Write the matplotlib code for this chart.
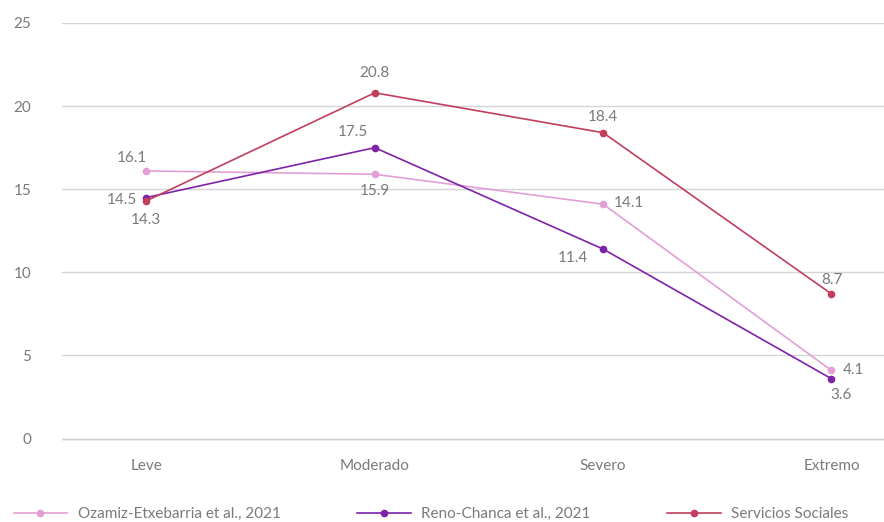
import matplotlib.pyplot as plt
import numpy as np

plt.rcParams['font.family'] = ['Lato', 'DejaVu Sans']

categories = ['Leve', 'Moderado', 'Severo', 'Extremo']
ozamiz = [16.1, 15.9, 14.1, 4.1]
reno = [14.5, 17.5, 11.4, 3.6]
servicios = [14.3, 20.8, 18.4, 8.7]
series_names = ['Ozamiz-Etxebarria et al., 2021', 'Reno-Chanca et al., 2021', 'Servicios Sociales']
yticks = [0, 5, 10, 15, 20, 25]

colors = ['#e29fd6', '#7e22a8', '#c13e5c']
# label offsets in pixels (dx, dy) for each point
offsets = [
    [(-14, 13), (0, -17), (26, 1), (22, 0)],
    [(-24, -2), (-22, 16), (-30, -9), (10, -16)],
    [(0, -19), (0, 20), (0, 16), (0, 14)],
]
text_color = '#7a7a7a'

fig = plt.figure(figsize=(8.84, 5.22), dpi=100)
ax = fig.add_axes([0.070, 0.155, 0.930, 0.801])

x = np.arange(len(categories))
for vals, name, col, offs in zip([ozamiz, reno, servicios], series_names, colors, offsets):
    ax.plot(x, vals, color=col, lw=1.2, marker='o', ms=4.5, label=name, zorder=3)
    for xi, v, (dx, dy) in zip(x, vals, offs):
        ax.annotate(f'{v:.1f}', (xi, v), xytext=(dx, dy), textcoords='offset pixels',
                    ha='center', va='center', fontsize=11, color=text_color)

ax.set_xlim(-0.37, 3.23)
ax.set_ylim(-0.15, 25)
ax.set_xticks(x)
ax.set_xticklabels(categories)
ax.set_yticks(yticks)
ax.tick_params(axis='both', length=0, labelsize=11, labelcolor=text_color)
ax.tick_params(axis='x', pad=13)
ax.tick_params(axis='y', pad=22)
ax.grid(axis='y', color='#d4d4d8', lw=1)
ax.axhline(0, color='#cfcfd8', lw=1, zorder=1)
ax.set_axisbelow(True)
for s in ax.spines.values():
    s.set_visible(False)

fig.legend(loc='lower left', bbox_to_anchor=(0.0, -0.025), ncol=3, frameon=False,
           handlelength=3.5, columnspacing=5.0, handletextpad=0.7,
           fontsize=11, labelcolor=text_color)

fig.savefig('out.png', dpi=100)
